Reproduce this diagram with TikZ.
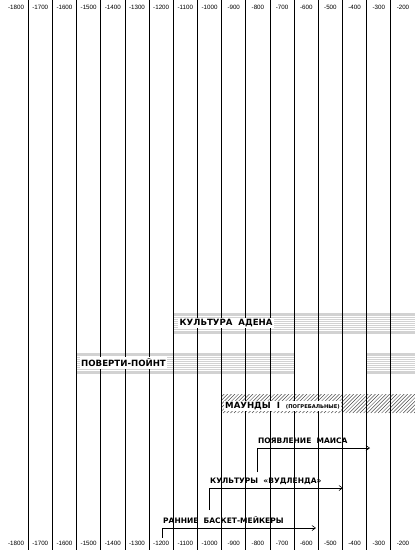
\documentclass[tikz,border=0pt]{standalone}
\usepackage{fontspec}
\setmainfont{Liberation Sans}
\newfontfamily\lblfont{DejaVu Sans}
\usetikzlibrary{arrows.meta}

\begin{document}
\begin{tikzpicture}[
    x=1pt, y=-1pt,
    year/.style={font=\fontsize{6.2}{7}\selectfont, inner sep=0pt},
    band/.style={fill=white, inner sep=1.5pt, anchor=west, font=\lblfont\fontsize{8.6}{9}\selectfont\bfseries},
    era/.style={inner sep=0pt, anchor=base west, font=\lblfont\fontsize{7.5}{8}\selectfont\bfseries},
    arrow/.style={-{Straight Barb[length=3.5pt, width=5pt]}, line width=0.6pt}
]
    \useasboundingbox (0,0) rectangle (415,550);

    % striped bands
    \foreach \xa/\xb/\ya in {173.26/415/313, 76.54/294.16/353, 366.7/415/353} {
        \fill[gray!35] (\xa,\ya) rectangle (\xb,\ya+21);
        \foreach \d in {3.5,5.5,...,17.5}
            \draw[white, line width=0.7pt] (\xa,\ya+\d) -- (\xb,\ya+\d);
    }
    % hatched band
    \begin{scope}
        \clip (221.62,394) rectangle (415,413);
        \foreach \s in {0,3.6,...,216}
            \draw[gray!60!black, line width=0.5pt] (201.62+\s,413) -- ++(20,-20);
    \end{scope}

    % grid and years
    \foreach \k in {1,...,17}
        \draw[line width=0.8pt] (4+24.18*\k,0) -- (4+24.18*\k,550);
    \foreach \yr [count=\i] in {-1800,-1700,...,-200} {
        \node[year] (top\i) at (4+24.18*\i-12.09,7) {\yr};
        \node[year] (bot\i) at (4+24.18*\i-12.09,543) {\yr};
    }

    \node[band] (adena) at (178,323) {КУЛЬТУРА\ \ АДЕНА};
    \node[band] (poverty) at (79.5,363) {ПОВЕРТИ-ПОЙНТ};
    \node[band] (mounds) at (223.5,406) {МАУНДЫ\ \ I\ \ {\fontsize{5.2}{6}\selectfont(ПОГРЕБАЛЬНЫЕ)}};

    % arrows
    \coordinate (maizeS) at (257,472);
    \coordinate (maizeE) at (370,448);
    \coordinate (woodS) at (209,510);
    \coordinate (woodE) at (343,488);
    \coordinate (basketS) at (162,538);
    \coordinate (basketE) at (316,528);
    \draw[arrow] (maizeS) |- (maizeE);
    \draw[arrow] (woodS) |- (woodE);
    \draw[arrow] (basketS) |- (basketE);
    \node[era] (maize) at (258,443.5) {ПОЯВЛЕНИЕ\ \ МАИСА};
    \node[era] (wood) at (210,483.5) {КУЛЬТУРЫ\ \ «ВУДЛЕНДА»};
    \node[era] (basket) at (163,523.5) {РАННИЕ\ \ БАСКЕТ-МЕЙКЕРЫ};
\end{tikzpicture}
\end{document}
